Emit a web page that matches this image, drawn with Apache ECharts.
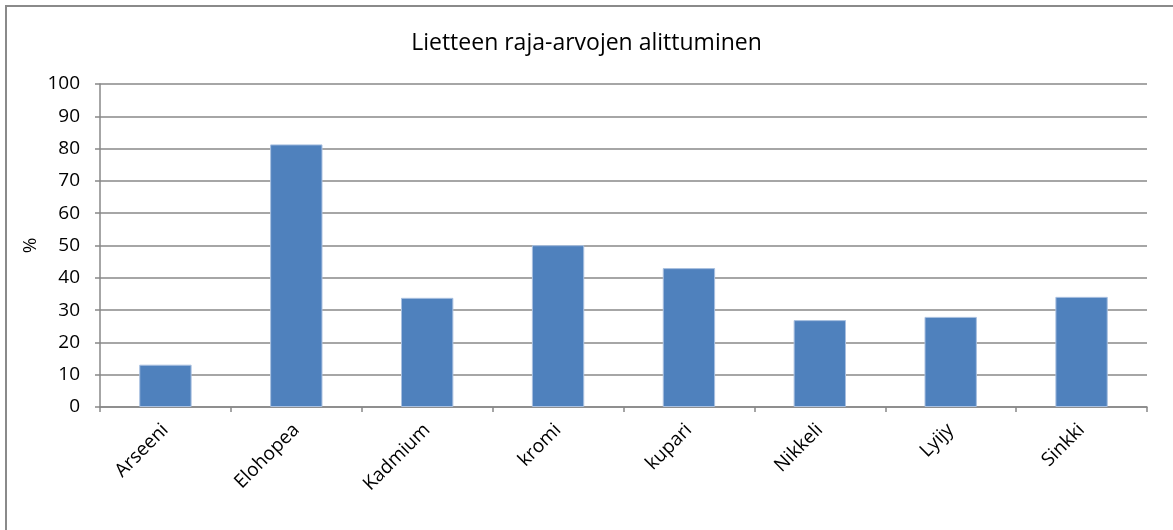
<!DOCTYPE html>
<html>
<head>
<meta charset="utf-8">
<script src="https://cdn.jsdelivr.net/npm/echarts@6/dist/echarts.min.js"></script>
<style>
  html, body { margin: 0; padding: 0; background: #fff; }
  #frame { position: absolute; left: 5px; top: 5px; width: 1180px; height: 540px;
           border-left: 2px solid #8a8a8a; border-top: 2px solid #8a8a8a; }
  #main { position: absolute; left: 0; top: 0; width: 1173px; height: 530px; }
</style>
</head>
<body>
<div id="frame"></div>
<div id="main"></div>
<script>
// kategoriat ja arvot (%)
var categories = ['Arseeni', 'Elohopea', 'Kadmium', 'kromi', 'kupari', 'Nikkeli', 'Lyijy', 'Sinkki'];
var values = [13.1, 81.3, 33.8, 50.1, 43.0, 26.9, 27.9, 34.1];
var yTicks = { min: 0, max: 100, interval: 10 };

var font = '"Open Sans", "Noto Sans", sans-serif';
var gray = '#888888';

var myChart = echarts.init(document.getElementById('main'));
var option = {
     animation: false,
     title: {
          text: 'Lietteen raja-arvojen alittuminen',
          left: 'center',
          top: 27,
          textStyle: {
               color: '#000',
               fontWeight: 'normal',
               fontSize: 23,
               fontFamily: font
          }
     },
     grid: {
          left: 100,
          right: 26,
          top: 84,
          bottom: 123,
          containLabel: false
     },
     xAxis: {
          type: 'category',
          data: categories,
          axisLine: { lineStyle: { color: gray, width: 1.5 } },
          axisTick: { show: true, length: 5, lineStyle: { color: gray, width: 1.5 } },
          axisLabel: {
               rotate: 45,
               color: '#000',
               fontSize: 19,
               fontFamily: font,
               margin: 20,
               interval: 0
          }
     },
     yAxis: {
          type: 'value',
          min: yTicks.min,
          max: yTicks.max,
          interval: yTicks.interval,
          name: '%',
          nameLocation: 'middle',
          nameGap: 60,
          nameMoveOverlap: false,
          nameRotate: 90,
          nameTextStyle: { color: '#000', fontSize: 19, fontFamily: font },
          axisLine: { show: true, lineStyle: { color: gray, width: 1.5 } },
          axisTick: { show: true, length: 5, lineStyle: { color: gray, width: 1.5 } },
          splitLine: { show: true, lineStyle: { color: gray, width: 1.5 } },
          axisLabel: {
               color: '#000',
               fontSize: 19,
               fontFamily: font,
               margin: 20
          }
     },
     series: [{
          type: 'bar',
          data: values,
          barWidth: '40%',
          itemStyle: {
               color: '#4F81BD',
               borderColor: '#a9c0e0',
               borderWidth: 1
          }
     }]
};
myChart.setOption(option);
</script>
</body>
</html>
